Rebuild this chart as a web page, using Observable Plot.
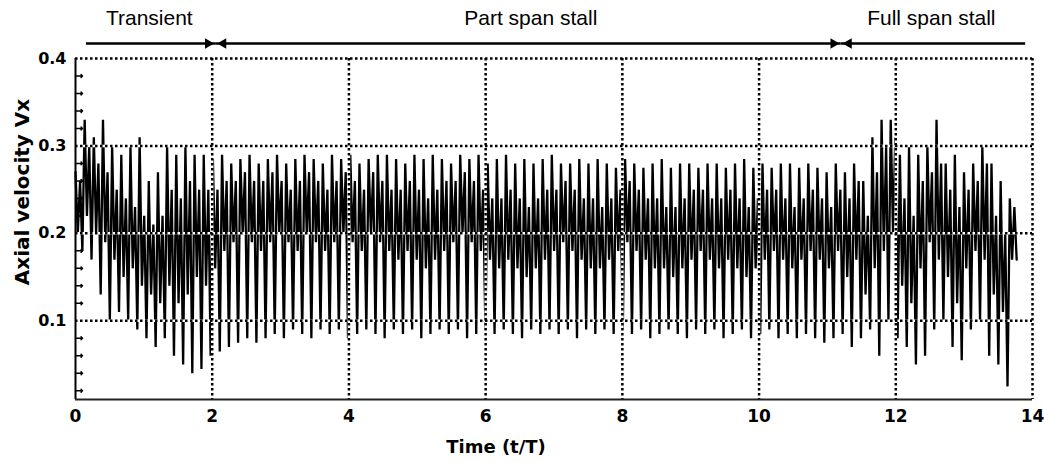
<!DOCTYPE html>
<html><head><meta charset="utf-8">
<script src="https://cdn.jsdelivr.net/npm/d3@7"></script>
<script src="https://cdn.jsdelivr.net/npm/@observablehq/plot@0.6"></script>
<style>body{margin:0;background:#fff}</style>
</head><body><div id="chart"></div>
<script>
// Sampling step (t/T) between successive readings; 4 readings per oscillation
const sampleStep = 0.0335;
// Per-oscillation readings: peak, dip after peak, rebound, trough
const cycleHigh = [
0.27,0.33,0.31,0.33,0.30,0.29,0.30,0.31,0.26,0.27,
0.30,0.29,0.30,0.29,0.29,0.285,0.29,0.28,0.285,0.29,
0.28,0.285,0.29,0.28,0.285,0.29,0.285,0.28,0.29,0.285,
0.29,0.28,0.285,0.29,0.29,0.285,0.28,0.29,0.285,0.29,
0.285,0.28,0.29,0.285,0.29,0.28,0.285,0.29,0.28,0.285,
0.28,0.285,0.29,0.28,0.28,0.285,0.28,0.285,0.28,0.275,
0.285,0.28,0.275,0.28,0.285,0.275,0.28,0.28,0.275,0.28,
0.28,0.275,0.28,0.285,0.275,0.28,0.275,0.28,0.28,0.275,
0.28,0.275,0.27,0.28,0.27,0.28,0.26,0.31,0.33,0.33,
0.29,0.30,0.29,0.30,0.33,0.28,0.29,0.27,0.28,0.30,
0.28,0.26,0.24];
const cycleDipLow = [
0.20,0.22,0.20,0.19,0.17,0.15,0.16,0.14,0.13,0.12,
0.14,0.12,0.13,0.15,0.14,0.16,0.18,0.19,0.20,0.19,
0.18,0.19,0.20,0.19,0.18,0.20,0.19,0.18,0.19,0.20,
0.19,0.18,0.20,0.19,0.18,0.17,0.18,0.17,0.16,0.17,
0.18,0.19,0.20,0.19,0.18,0.17,0.16,0.17,0.16,0.15,
0.16,0.17,0.18,0.19,0.18,0.17,0.16,0.16,0.17,0.18,
0.19,0.18,0.17,0.16,0.16,0.15,0.16,0.17,0.18,0.17,
0.16,0.17,0.16,0.15,0.16,0.17,0.18,0.17,0.16,0.17,
0.18,0.17,0.16,0.18,0.15,0.17,0.13,0.16,0.18,0.20,
0.14,0.12,0.16,0.19,0.17,0.15,0.12,0.16,0.18,0.17,
0.13,0.11,0.17];
const cycleDipHigh = [
0.26,0.30,0.28,0.27,0.25,0.24,0.23,0.22,0.21,0.22,
0.25,0.24,0.26,0.25,0.25,0.25,0.26,0.26,0.27,0.26,
0.26,0.27,0.26,0.25,0.26,0.27,0.26,0.25,0.26,0.27,
0.26,0.25,0.27,0.26,0.25,0.25,0.26,0.25,0.24,0.25,
0.26,0.26,0.27,0.26,0.25,0.24,0.24,0.25,0.24,0.23,
0.24,0.25,0.25,0.26,0.25,0.24,0.24,0.23,0.24,0.25,
0.26,0.25,0.24,0.24,0.23,0.23,0.24,0.25,0.25,0.24,
0.24,0.25,0.24,0.23,0.24,0.25,0.25,0.24,0.23,0.24,
0.25,0.24,0.23,0.25,0.24,0.26,0.22,0.27,0.30,0.31,
0.24,0.22,0.26,0.27,0.28,0.25,0.23,0.25,0.26,0.28,
0.22,0.20,0.23];
const cycleLow = [
0.18,0.17,0.13,0.10,0.11,0.10,0.09,0.08,0.07,0.08,
0.06,0.05,0.04,0.045,0.06,0.065,0.07,0.075,0.08,0.075,
0.08,0.085,0.08,0.09,0.085,0.08,0.09,0.085,0.09,0.08,
0.085,0.09,0.085,0.08,0.09,0.085,0.09,0.08,0.085,0.09,
0.085,0.09,0.08,0.085,0.09,0.085,0.09,0.085,0.08,0.09,
0.085,0.09,0.085,0.09,0.08,0.09,0.085,0.09,0.085,0.09,
0.085,0.09,0.08,0.085,0.09,0.085,0.08,0.09,0.085,0.09,
0.08,0.085,0.09,0.08,0.085,0.09,0.08,0.085,0.08,0.085,
0.08,0.075,0.08,0.085,0.07,0.08,0.09,0.06,0.10,0.08,
0.07,0.05,0.06,0.09,0.10,0.07,0.055,0.09,0.10,0.06,
0.05,0.025,0.17];

const xTicks = [0,2,4,6,8,10,12,14];
const yTicks = [0.1,0.2,0.3,0.4];
const yMinorTicks = [0.02,0.04,0.06,0.08,0.12,0.14,0.16,0.18,0.22,0.24,0.26,0.28,0.32,0.34,0.36,0.38];
const yBottom = 0.01, yTop = 0.4;
const phaseNames = ["Transient","Part span stall","Full span stall"];
const phaseBounds = [0.16, 2.05, 11.2, 13.9];
const phaseLabelX = [1.08, 6.66, 12.52];

const series = [];
cycleHigh.forEach((h, i) => {
  [h, cycleDipLow[i], cycleDipHigh[i], cycleLow[i]].forEach(v => series.push({t: series.length * sampleStep, v}));
});
const phases = phaseNames.map((name, i) => ({name, x1: phaseBounds[i], x2: phaseBounds[i + 1], xl: phaseLabelX[i]}));

const boldFont = "'DejaVu Sans', sans-serif";
const chart = Plot.plot({
  width: 1044, height: 462,
  marginLeft: 75, marginRight: 12, marginTop: 58, marginBottom: 63,
  x: {domain: [0, 14]},
  y: {domain: [yBottom, yTop]},
  style: {fontFamily: "'Liberation Sans', Arial, sans-serif", background: "#fff", overflow: "visible", color: "#000"},
  marks: [
    Plot.line(series, {x: "t", y: "v", stroke: "#000", strokeWidth: 2.3, strokeLinejoin: "miter"}),
    Plot.ruleX(xTicks.slice(1), {stroke: "#fff", strokeWidth: 2.5}),
    Plot.ruleY(yTicks, {stroke: "#fff", strokeWidth: 2.5}),
    Plot.ruleX(xTicks.slice(1), {stroke: "#000", strokeWidth: 2.5, strokeDasharray: "2.5,2.5"}),
    Plot.ruleY(yTicks, {stroke: "#000", strokeWidth: 2.5, strokeDasharray: "2.5,2.5"}),
    Plot.vector(yMinorTicks, {x: () => 0, y: d => d, length: 7, rotate: 90, anchor: "start", stroke: "#000", strokeWidth: 1.5}),
    Plot.ruleX([0], {stroke: "#000", strokeWidth: 2}),
    Plot.ruleY([yBottom], {stroke: "#222", strokeWidth: 2}),
    Plot.axisX(xTicks, {tickSize: 0, tickPadding: 10, fontSize: 17, fontWeight: "bold", fontFamily: boldFont, label: null}),
    Plot.axisY(yTicks, {tickSize: 0, tickPadding: 9, fontSize: 16, fontWeight: "bold", fontFamily: boldFont, label: null, tickFormat: d3.format(".1f")}),
    Plot.ruleY(phases, {x1: "x1", x2: "x2", y: () => yTop, dy: -15, stroke: "#000", strokeWidth: 2.5}),
    Plot.dot(phases.slice(0, 2), {x: "x2", y: () => yTop, dy: -15, dx: -7.6, symbol: "triangle2", r: 5, rotate: 90, fill: "#000"}),
    Plot.dot(phases.slice(1), {x: "x1", y: () => yTop, dy: -15, dx: 7.6, symbol: "triangle2", r: 5, rotate: -90, fill: "#000"}),
    Plot.text(phases, {x: "xl", y: () => yTop, text: "name", dy: -40, fontSize: 21, fill: "#000"}),
    Plot.text(["Time (t/T)"], {frameAnchor: "bottom", dx: -58, dy: 53, text: d => d, fontSize: 18, fontWeight: "bold", fontFamily: boldFont, fill: "#000"}),
    Plot.text(["Axial velocity Vx"], {frameAnchor: "left", textAnchor: "middle", dx: -53, dy: -37, rotate: -90, text: d => d, fontSize: 20, fontWeight: "bold", fontFamily: boldFont, fill: "#000"})
  ]
});
document.getElementById("chart").appendChild(chart);
</script>
</body></html>
